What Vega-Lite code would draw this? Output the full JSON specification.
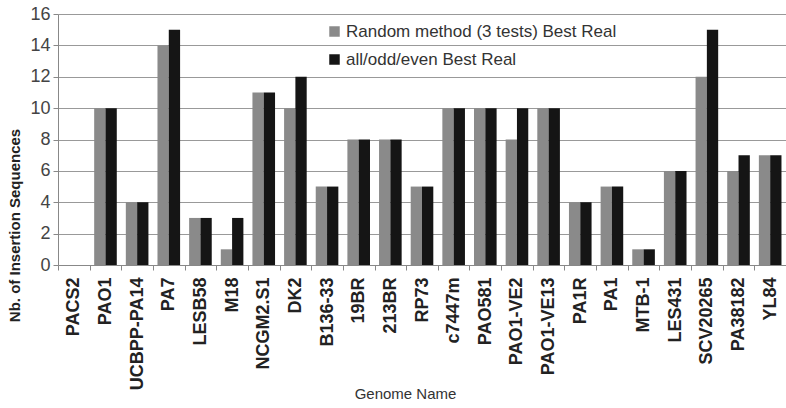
{
  "$schema": "https://vega.github.io/schema/vega-lite/v6.json",
  "width": 728,
  "height": 251,
  "autosize": {"type": "none"},
  "padding": {"left": 58, "top": 14, "right": 0, "bottom": 143},
  "background": "white",
  "config": {
    "font": "Liberation Sans",
    "view": {"stroke": null}
  },
  "data": {
    "values": [
      {"genome": "PACS2", "series": "Random method (3 tests) Best Real", "value": 0},
      {"genome": "PACS2", "series": "all/odd/even Best Real", "value": 0},
      {"genome": "PAO1", "series": "Random method (3 tests) Best Real", "value": 10},
      {"genome": "PAO1", "series": "all/odd/even Best Real", "value": 10},
      {"genome": "UCBPP-PA14", "series": "Random method (3 tests) Best Real", "value": 4},
      {"genome": "UCBPP-PA14", "series": "all/odd/even Best Real", "value": 4},
      {"genome": "PA7", "series": "Random method (3 tests) Best Real", "value": 14},
      {"genome": "PA7", "series": "all/odd/even Best Real", "value": 15},
      {"genome": "LESB58", "series": "Random method (3 tests) Best Real", "value": 3},
      {"genome": "LESB58", "series": "all/odd/even Best Real", "value": 3},
      {"genome": "M18", "series": "Random method (3 tests) Best Real", "value": 1},
      {"genome": "M18", "series": "all/odd/even Best Real", "value": 3},
      {"genome": "NCGM2.S1", "series": "Random method (3 tests) Best Real", "value": 11},
      {"genome": "NCGM2.S1", "series": "all/odd/even Best Real", "value": 11},
      {"genome": "DK2", "series": "Random method (3 tests) Best Real", "value": 10},
      {"genome": "DK2", "series": "all/odd/even Best Real", "value": 12},
      {"genome": "B136-33", "series": "Random method (3 tests) Best Real", "value": 5},
      {"genome": "B136-33", "series": "all/odd/even Best Real", "value": 5},
      {"genome": "19BR", "series": "Random method (3 tests) Best Real", "value": 8},
      {"genome": "19BR", "series": "all/odd/even Best Real", "value": 8},
      {"genome": "213BR", "series": "Random method (3 tests) Best Real", "value": 8},
      {"genome": "213BR", "series": "all/odd/even Best Real", "value": 8},
      {"genome": "RP73", "series": "Random method (3 tests) Best Real", "value": 5},
      {"genome": "RP73", "series": "all/odd/even Best Real", "value": 5},
      {"genome": "c7447m", "series": "Random method (3 tests) Best Real", "value": 10},
      {"genome": "c7447m", "series": "all/odd/even Best Real", "value": 10},
      {"genome": "PAO581", "series": "Random method (3 tests) Best Real", "value": 10},
      {"genome": "PAO581", "series": "all/odd/even Best Real", "value": 10},
      {"genome": "PAO1-VE2", "series": "Random method (3 tests) Best Real", "value": 8},
      {"genome": "PAO1-VE2", "series": "all/odd/even Best Real", "value": 10},
      {"genome": "PAO1-VE13", "series": "Random method (3 tests) Best Real", "value": 10},
      {"genome": "PAO1-VE13", "series": "all/odd/even Best Real", "value": 10},
      {"genome": "PA1R", "series": "Random method (3 tests) Best Real", "value": 4},
      {"genome": "PA1R", "series": "all/odd/even Best Real", "value": 4},
      {"genome": "PA1", "series": "Random method (3 tests) Best Real", "value": 5},
      {"genome": "PA1", "series": "all/odd/even Best Real", "value": 5},
      {"genome": "MTB-1", "series": "Random method (3 tests) Best Real", "value": 1},
      {"genome": "MTB-1", "series": "all/odd/even Best Real", "value": 1},
      {"genome": "LES431", "series": "Random method (3 tests) Best Real", "value": 6},
      {"genome": "LES431", "series": "all/odd/even Best Real", "value": 6},
      {"genome": "SCV20265", "series": "Random method (3 tests) Best Real", "value": 12},
      {"genome": "SCV20265", "series": "all/odd/even Best Real", "value": 15},
      {"genome": "PA38182", "series": "Random method (3 tests) Best Real", "value": 6},
      {"genome": "PA38182", "series": "all/odd/even Best Real", "value": 7},
      {"genome": "YL84", "series": "Random method (3 tests) Best Real", "value": 7},
      {"genome": "YL84", "series": "all/odd/even Best Real", "value": 7}
    ]
  },
  "mark": {"type": "bar"},
  "encoding": {
    "x": {
      "field": "genome",
      "type": "nominal",
      "sort": null,
      "scale": {"paddingInner": 0, "paddingOuter": 0},
      "axis": {
        "title": "Genome Name",
        "titleFontSize": 15,
        "titleFontWeight": "normal",
        "titleColor": "#333333",
        "titleX": 347,
        "titleY": 128,
        "titleBaseline": "middle",
        "titleAlign": "center",
        "labelAngle": -90,
        "labelFontSize": 18,
        "labelFontWeight": "bold",
        "labelColor": "#222222",
        "labelPadding": 7,
        "labelLimit": 0,
        "tickBand": "extent",
        "tickSize": 5,
        "tickColor": "#888888",
        "domainColor": "#888888",
        "grid": false
      }
    },
    "xOffset": {
      "field": "series",
      "type": "nominal",
      "sort": ["Random method (3 tests) Best Real", "all/odd/even Best Real"],
      "scale": {"paddingInner": 0, "paddingOuter": 0.4}
    },
    "y": {
      "field": "value",
      "type": "quantitative",
      "scale": {"domain": [0, 16], "nice": false},
      "axis": {
        "title": "Nb. of Insertion Sequences",
        "titleFontSize": 15,
        "titleFontWeight": "bold",
        "titleColor": "#222222",
        "titleAngle": 270,
        "titleX": -44,
        "titleY": 211,
        "titleAlign": "center",
        "titleBaseline": "middle",
        "values": [0, 2, 4, 6, 8, 10, 12, 14, 16],
        "labelFontSize": 18,
        "labelColor": "#444444",
        "labelPadding": 3,
        "tickSize": 5,
        "tickColor": "#888888",
        "domainColor": "#888888",
        "gridColor": "#999999",
        "gridWidth": 1
      }
    },
    "color": {
      "field": "series",
      "type": "nominal",
      "scale": {
        "domain": ["Random method (3 tests) Best Real", "all/odd/even Best Real"],
        "range": ["#8a8a8a", "#151515"]
      },
      "legend": {
        "title": null,
        "orient": "none",
        "legendX": 268,
        "legendY": 9,
        "symbolType": "square",
        "symbolSize": 110,
        "symbolStrokeWidth": 0,
        "labelFontSize": 17,
        "labelColor": "#333333",
        "labelOffset": 3,
        "labelLimit": 0,
        "rowPadding": 10
      }
    }
  }
}
